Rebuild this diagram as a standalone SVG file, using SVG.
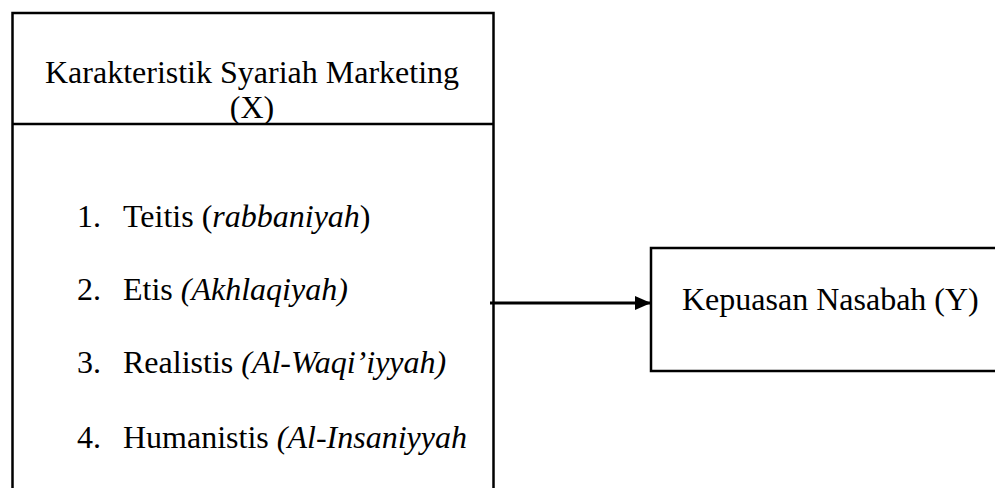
<svg xmlns="http://www.w3.org/2000/svg" width="995" height="488" viewBox="0 0 995 488">
<style>
.t{font-family:"Liberation Serif","Times New Roman",serif;font-size:32px;fill:#000}
.i{font-style:italic}
.b{fill:#fff;stroke:#000;stroke-width:2.5}
</style>
<defs>
<marker id="ah" viewBox="0 0 16 14" refX="16" refY="7" markerWidth="16" markerHeight="14" markerUnits="userSpaceOnUse" orient="auto">
<path d="M0,0 L16,7 L0,14 z" fill="#000"/>
</marker>
</defs>
<rect width="995" height="488" fill="#fff"/>
<g id="node-x">
<rect class="b" x="12.5" y="13" width="481" height="490"/>
<line x1="12.5" y1="124" x2="493.5" y2="124" stroke="#000" stroke-width="2.5"/>
<text class="t" x="252" y="83" text-anchor="middle">Karakteristik Syariah Marketing</text>
<text class="t" x="252" y="118" text-anchor="middle">(X)</text>
<text class="t" x="77" y="227">1.</text>
<text class="t" x="123" y="227">Teitis (<tspan class="i">rabbaniyah</tspan>)</text>
<text class="t" x="77" y="300">2.</text>
<text class="t" x="123" y="300">Etis <tspan class="i">(Akhlaqiyah)</tspan></text>
<text class="t" x="77" y="373">3.</text>
<text class="t" x="123" y="373">Realistis <tspan class="i">(Al-Waqi’iyyah)</tspan></text>
<text class="t" x="77" y="448">4.</text>
<text class="t" x="123" y="448">Humanistis <tspan class="i">(Al-Insaniyyah</tspan></text>
</g>
<g id="node-y">
<rect class="b" x="651" y="248" width="360" height="123"/>
<text class="t" x="682" y="310">Kepuasan Nasabah (Y)</text>
</g>
<g id="connectors">
<line x1="490" y1="303" x2="651" y2="303" stroke="#000" stroke-width="3" marker-end="url(#ah)"/>
</g>
</svg>
